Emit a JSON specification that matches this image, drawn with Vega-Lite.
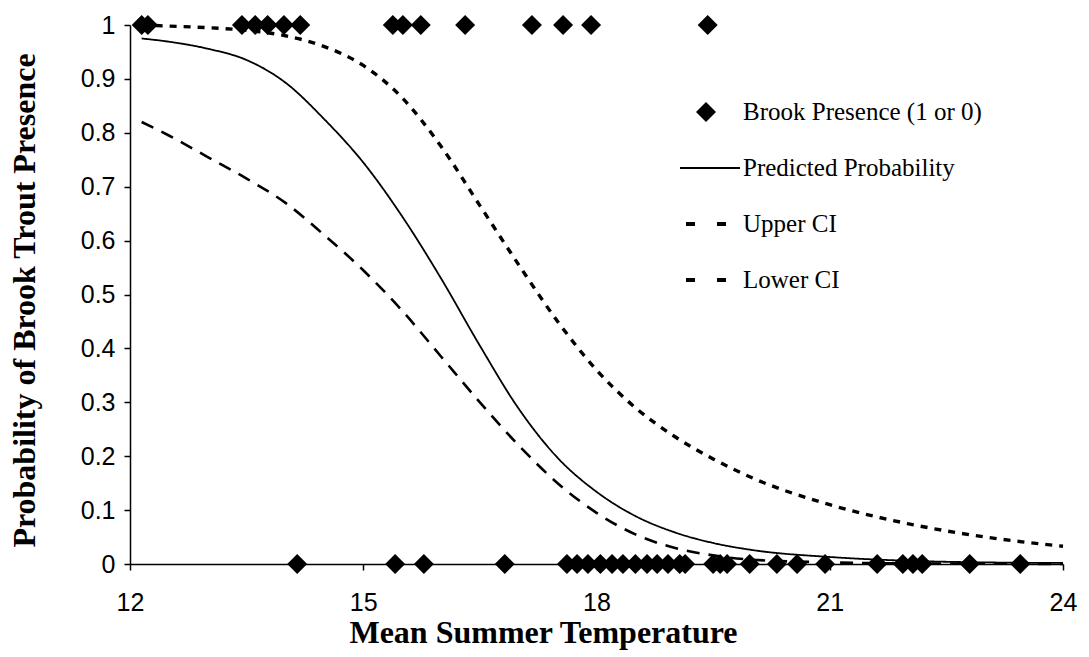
{
  "$schema": "https://vega.github.io/schema/vega-lite/v6.json",
  "width": 933,
  "height": 539,
  "autosize": {"type": "none"},
  "padding": {"left": 130, "top": 25, "right": 26, "bottom": 93},
  "background": "white",
  "config": {
    "view": {"stroke": null},
    "axis": {
      "domainColor": "black",
      "domainWidth": 1.5,
      "tickColor": "black",
      "tickWidth": 1.5,
      "tickSize": 6,
      "grid": false,
      "labelFont": "Liberation Sans",
      "labelFontSize": 25,
      "labelColor": "black",
      "titleFont": "Liberation Serif",
      "titleFontSize": 32,
      "titleFontWeight": "bold",
      "titleColor": "black"
    },
    "legend": {
      "orient": "none",
      "legendX": 556,
      "legendY": 67,
      "padding": 0,
      "symbolSize": 1600,
      "symbolOffset": 0,
      "symbolStrokeColor": "black",
      "symbolFillColor": "black",
      "symbolStrokeWidth": 0,
      "labelFont": "Liberation Serif",
      "labelFontSize": 25,
      "labelColor": "black",
      "labelOffset": 17,
      "labelLimit": 400,
      "rowPadding": 15
    }
  },
  "datasets": {
    "points": [
      {"temp": 12.15, "presence": 1, "series": "Brook Presence (1 or 0)"},
      {"temp": 12.23, "presence": 1, "series": "Brook Presence (1 or 0)"},
      {"temp": 13.44, "presence": 1, "series": "Brook Presence (1 or 0)"},
      {"temp": 13.61, "presence": 1, "series": "Brook Presence (1 or 0)"},
      {"temp": 13.77, "presence": 1, "series": "Brook Presence (1 or 0)"},
      {"temp": 13.98, "presence": 1, "series": "Brook Presence (1 or 0)"},
      {"temp": 14.19, "presence": 1, "series": "Brook Presence (1 or 0)"},
      {"temp": 15.38, "presence": 1, "series": "Brook Presence (1 or 0)"},
      {"temp": 15.51, "presence": 1, "series": "Brook Presence (1 or 0)"},
      {"temp": 15.74, "presence": 1, "series": "Brook Presence (1 or 0)"},
      {"temp": 16.31, "presence": 1, "series": "Brook Presence (1 or 0)"},
      {"temp": 17.17, "presence": 1, "series": "Brook Presence (1 or 0)"},
      {"temp": 17.57, "presence": 1, "series": "Brook Presence (1 or 0)"},
      {"temp": 17.93, "presence": 1, "series": "Brook Presence (1 or 0)"},
      {"temp": 19.43, "presence": 1, "series": "Brook Presence (1 or 0)"},
      {"temp": 14.15, "presence": 0, "series": "Brook Presence (1 or 0)"},
      {"temp": 15.41, "presence": 0, "series": "Brook Presence (1 or 0)"},
      {"temp": 15.78, "presence": 0, "series": "Brook Presence (1 or 0)"},
      {"temp": 16.82, "presence": 0, "series": "Brook Presence (1 or 0)"},
      {"temp": 17.62, "presence": 0, "series": "Brook Presence (1 or 0)"},
      {"temp": 17.75, "presence": 0, "series": "Brook Presence (1 or 0)"},
      {"temp": 17.89, "presence": 0, "series": "Brook Presence (1 or 0)"},
      {"temp": 18.05, "presence": 0, "series": "Brook Presence (1 or 0)"},
      {"temp": 18.2, "presence": 0, "series": "Brook Presence (1 or 0)"},
      {"temp": 18.34, "presence": 0, "series": "Brook Presence (1 or 0)"},
      {"temp": 18.5, "presence": 0, "series": "Brook Presence (1 or 0)"},
      {"temp": 18.65, "presence": 0, "series": "Brook Presence (1 or 0)"},
      {"temp": 18.78, "presence": 0, "series": "Brook Presence (1 or 0)"},
      {"temp": 18.92, "presence": 0, "series": "Brook Presence (1 or 0)"},
      {"temp": 19.07, "presence": 0, "series": "Brook Presence (1 or 0)"},
      {"temp": 19.14, "presence": 0, "series": "Brook Presence (1 or 0)"},
      {"temp": 19.5, "presence": 0, "series": "Brook Presence (1 or 0)"},
      {"temp": 19.59, "presence": 0, "series": "Brook Presence (1 or 0)"},
      {"temp": 19.68, "presence": 0, "series": "Brook Presence (1 or 0)"},
      {"temp": 19.97, "presence": 0, "series": "Brook Presence (1 or 0)"},
      {"temp": 20.32, "presence": 0, "series": "Brook Presence (1 or 0)"},
      {"temp": 20.58, "presence": 0, "series": "Brook Presence (1 or 0)"},
      {"temp": 20.94, "presence": 0, "series": "Brook Presence (1 or 0)"},
      {"temp": 21.61, "presence": 0, "series": "Brook Presence (1 or 0)"},
      {"temp": 21.94, "presence": 0, "series": "Brook Presence (1 or 0)"},
      {"temp": 22.07, "presence": 0, "series": "Brook Presence (1 or 0)"},
      {"temp": 22.19, "presence": 0, "series": "Brook Presence (1 or 0)"},
      {"temp": 22.8, "presence": 0, "series": "Brook Presence (1 or 0)"},
      {"temp": 23.45, "presence": 0, "series": "Brook Presence (1 or 0)"}
    ],
    "curves": [
      {"temp": 12.15, "p": 0.975, "series": "Predicted Probability"},
      {"temp": 12.5, "p": 0.969, "series": "Predicted Probability"},
      {"temp": 13.0, "p": 0.956, "series": "Predicted Probability"},
      {"temp": 13.5, "p": 0.935, "series": "Predicted Probability"},
      {"temp": 14.0, "p": 0.893, "series": "Predicted Probability"},
      {"temp": 14.5, "p": 0.825, "series": "Predicted Probability"},
      {"temp": 15.0, "p": 0.745, "series": "Predicted Probability"},
      {"temp": 15.5, "p": 0.645, "series": "Predicted Probability"},
      {"temp": 16.0, "p": 0.53, "series": "Predicted Probability"},
      {"temp": 16.5, "p": 0.405, "series": "Predicted Probability"},
      {"temp": 17.0, "p": 0.288, "series": "Predicted Probability"},
      {"temp": 17.5, "p": 0.197, "series": "Predicted Probability"},
      {"temp": 18.0, "p": 0.134, "series": "Predicted Probability"},
      {"temp": 18.5, "p": 0.089, "series": "Predicted Probability"},
      {"temp": 19.0, "p": 0.059, "series": "Predicted Probability"},
      {"temp": 19.5, "p": 0.039, "series": "Predicted Probability"},
      {"temp": 20.0, "p": 0.026, "series": "Predicted Probability"},
      {"temp": 21.0, "p": 0.013, "series": "Predicted Probability"},
      {"temp": 22.0, "p": 0.006, "series": "Predicted Probability"},
      {"temp": 23.0, "p": 0.003, "series": "Predicted Probability"},
      {"temp": 24.0, "p": 0.002, "series": "Predicted Probability"},
      {"temp": 12.15, "p": 1.0, "series": "Upper CI"},
      {"temp": 12.5, "p": 0.998, "series": "Upper CI"},
      {"temp": 13.0, "p": 0.995, "series": "Upper CI"},
      {"temp": 13.5, "p": 0.99, "series": "Upper CI"},
      {"temp": 14.0, "p": 0.98, "series": "Upper CI"},
      {"temp": 14.5, "p": 0.96, "series": "Upper CI"},
      {"temp": 15.0, "p": 0.925, "series": "Upper CI"},
      {"temp": 15.5, "p": 0.865, "series": "Upper CI"},
      {"temp": 16.0, "p": 0.775, "series": "Upper CI"},
      {"temp": 16.5, "p": 0.665, "series": "Upper CI"},
      {"temp": 17.0, "p": 0.555, "series": "Upper CI"},
      {"temp": 17.5, "p": 0.45, "series": "Upper CI"},
      {"temp": 18.0, "p": 0.36, "series": "Upper CI"},
      {"temp": 18.5, "p": 0.29, "series": "Upper CI"},
      {"temp": 19.0, "p": 0.237, "series": "Upper CI"},
      {"temp": 19.5, "p": 0.195, "series": "Upper CI"},
      {"temp": 20.0, "p": 0.16, "series": "Upper CI"},
      {"temp": 21.0, "p": 0.11, "series": "Upper CI"},
      {"temp": 22.0, "p": 0.075, "series": "Upper CI"},
      {"temp": 23.0, "p": 0.05, "series": "Upper CI"},
      {"temp": 24.0, "p": 0.033, "series": "Upper CI"},
      {"temp": 12.15, "p": 0.82, "series": "Lower CI"},
      {"temp": 12.5, "p": 0.795, "series": "Lower CI"},
      {"temp": 13.0, "p": 0.755, "series": "Lower CI"},
      {"temp": 13.5, "p": 0.715, "series": "Lower CI"},
      {"temp": 14.0, "p": 0.67, "series": "Lower CI"},
      {"temp": 14.5, "p": 0.61, "series": "Lower CI"},
      {"temp": 15.0, "p": 0.545, "series": "Lower CI"},
      {"temp": 15.5, "p": 0.47, "series": "Lower CI"},
      {"temp": 16.0, "p": 0.385, "series": "Lower CI"},
      {"temp": 16.5, "p": 0.3, "series": "Lower CI"},
      {"temp": 17.0, "p": 0.22, "series": "Lower CI"},
      {"temp": 17.5, "p": 0.15, "series": "Lower CI"},
      {"temp": 18.0, "p": 0.095, "series": "Lower CI"},
      {"temp": 18.5, "p": 0.055, "series": "Lower CI"},
      {"temp": 19.0, "p": 0.03, "series": "Lower CI"},
      {"temp": 19.5, "p": 0.016, "series": "Lower CI"},
      {"temp": 20.0, "p": 0.008, "series": "Lower CI"},
      {"temp": 21.0, "p": 0.003, "series": "Lower CI"},
      {"temp": 22.0, "p": 0.001, "series": "Lower CI"},
      {"temp": 23.0, "p": 0.0005, "series": "Lower CI"},
      {"temp": 24.0, "p": 0.0002, "series": "Lower CI"}
    ]
  },
  "encoding": {
    "x": {
      "field": "temp",
      "type": "quantitative",
      "scale": {"domain": [12, 24], "nice": false, "zero": false},
      "axis": {
        "values": [12, 15, 18, 21, 24],
        "format": "~g",
        "labelPadding": 20,
        "labelFlush": false,
        "title": "Mean Summer Temperature",
        "titleX": 413,
        "titleY": 68,
        "titleBaseline": "middle",
        "titleAlign": "center"
      }
    }
  },
  "layer": [
    {
      "data": {"name": "curves"},
      "transform": [{"filter": "datum.series === 'Predicted Probability'"}],
      "mark": {"type": "line", "color": "black", "strokeWidth": 1.8, "interpolate": "monotone"},
      "encoding": {
        "y": {
          "field": "p",
          "type": "quantitative",
          "scale": {"domain": [0, 1], "nice": false},
          "axis": {
            "values": [0, 0.1, 0.2, 0.3, 0.4, 0.5, 0.6, 0.7, 0.8, 0.9, 1],
            "format": "~g",
            "labelPadding": 9,
            "labelFlush": false,
            "title": "Probability of Brook Trout Presence",
            "titleX": -106,
            "titleY": 275,
            "titleAngle": -90,
            "titleBaseline": "middle",
            "titleAlign": "center"
          }
        },
        "strokeDash": {
          "field": "series",
          "type": "nominal",
          "scale": {
            "domain": ["Brook Presence (1 or 0)", "Predicted Probability", "Upper CI", "Lower CI"],
            "range": [[1, 0], [1, 0], [7, 7], [13, 9]]
          },
          "legend": {"title": null}
        }
      }
    },
    {
      "data": {"name": "curves"},
      "transform": [{"filter": "datum.series === 'Upper CI'"}],
      "mark": {"type": "line", "color": "black", "strokeWidth": 3.4, "interpolate": "monotone"},
      "encoding": {
        "y": {"field": "p", "type": "quantitative"},
        "strokeDash": {"field": "series", "type": "nominal", "legend": {"title": null}}
      }
    },
    {
      "data": {"name": "curves"},
      "transform": [{"filter": "datum.series === 'Lower CI'"}],
      "mark": {"type": "line", "color": "black", "strokeWidth": 2.6, "interpolate": "monotone"},
      "encoding": {
        "y": {"field": "p", "type": "quantitative"},
        "strokeDash": {"field": "series", "type": "nominal", "legend": {"title": null}}
      }
    },
    {
      "data": {"name": "points"},
      "mark": {"type": "point", "filled": true, "color": "black", "opacity": 1, "size": 1600},
      "encoding": {
        "y": {"field": "presence", "type": "quantitative"},
        "shape": {
          "field": "series",
          "type": "nominal",
          "scale": {
            "domain": ["Brook Presence (1 or 0)", "Predicted Probability", "Upper CI", "Lower CI"],
            "range": [
              "M0,-0.5L0.5,0L0,0.5L-0.5,0Z",
              "M-1.3,-0.05H1.7V0.05H-1.3Z",
              "M-1,-0.1H-0.55V0.1H-1Z M0.55,-0.1H1V0.1H0.55Z",
              "M-1,-0.1H-0.55V0.1H-1Z M0.55,-0.1H1V0.1H0.55Z"
            ]
          },
          "legend": {
            "title": null,
            "rowPadding": 23,
            "encode": {
              "symbols": {
                "update": {
                  "fill": {"value": "black"},
                  "fillOpacity": {"value": 1},
                  "opacity": {"value": 1},
                  "strokeWidth": {"value": 0}
                }
              }
            }
          }
        }
      }
    }
  ]
}
